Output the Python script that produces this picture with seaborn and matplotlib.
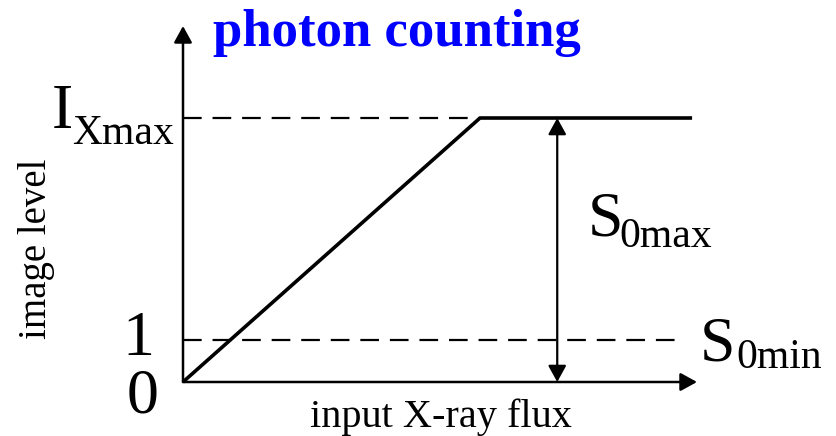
import matplotlib
matplotlib.use("Agg")
import matplotlib.pyplot as plt
import seaborn as sns
import pandas as pd

sns.set_theme(style="white")
plt.rcParams['font.family'] = ['Liberation Serif', 'DejaVu Sans']
plt.rcParams['text.color'] = 'black'

# response curve: linear up to saturation, then flat at I_Xmax
flux = [0.0, 1.0, 1.714]
level = [0.0, 1.0, 1.0]
i_xmax = 1.0
level_one = 0.159
flux_sat = 1.0
flux_end_min = 1.69
flux_range = 1.26

title = "photon counting"
xlabel = "input X-ray flux"
ylabel = "image level"

curve = pd.DataFrame({"flux": flux, "level": level})

fig = plt.figure(figsize=(8.37, 4.36), dpi=100)
ax = fig.add_axes([183 / 837, 54 / 436, 514 / 837, 356 / 436])
ax.set_xlim(0, 1.7306)
ax.set_ylim(0, 1.3485)
ax.axis('off')

sns.lineplot(data=curve, x="flux", y="level", color="black", linewidth=2.6,
             ax=ax, clip_on=False, solid_capstyle='butt')

# dashed reference levels
dash = (0, (8.4, 4.9))
ax.plot([0, flux_sat], [i_xmax, i_xmax], color="black", lw=1.6, linestyle=dash)
ax.plot([0, flux_end_min], [level_one, level_one], color="black", lw=1.6,
        linestyle=dash, clip_on=False)

# axes with arrow heads
arrow = dict(arrowstyle='-|>,head_length=0.4,head_width=0.22', color='black',
             lw=1.8, mutation_scale=25, shrinkA=0, shrinkB=0)
ax.annotate('', xy=(0, 1), xytext=(0, 0), xycoords='axes fraction',
            textcoords='axes fraction', arrowprops=arrow)
ax.annotate('', xy=(1, 0), xytext=(0, 0), xycoords='axes fraction',
            textcoords='axes fraction', arrowprops=arrow)

# range arrow between 0 and I_Xmax
double = dict(arrowstyle='<|-|>,head_length=0.4,head_width=0.22', color='black',
              lw=1.6, mutation_scale=25, shrinkA=0, shrinkB=0)
ax.annotate('', xy=(flux_range, i_xmax), xytext=(flux_range, 0),
            arrowprops=double)

big = 46
small = 30
txt = dict(ha='left', va='baseline', color='black', clip_on=False)
ax.text(-0.441, 0.962, "I", fontsize=big, **txt)
ax.text(-0.374, 0.9015, "Xmax", fontsize=small, **txt)
ax.text(-0.1515, 0.102, "1", fontsize=big, ha='center', va='baseline')
ax.text(-0.135, -0.114, "0", fontsize=big, ha='center', va='baseline')
ax.text(1.3636, 0.5568, "S", fontsize=big, **txt)
ax.text(1.468, 0.511, "0max", fontsize=small, **txt)
ax.text(1.7407, 0.0833, "S", fontsize=big, **txt)
ax.text(1.862, 0.053, "0min", fontsize=small, **txt)

ax.text(0.101, 1.2727, title, fontsize=38, fontweight='bold', color='#0000ff',
        ha='left', va='baseline')
ax.text(0.869, -0.17, xlabel, fontsize=29, ha='center', va='baseline')
ax.text(-0.4916, 0.504, ylabel, fontsize=28, rotation=90, ha='center',
        va='center')

fig.savefig("out.png", dpi=100)
